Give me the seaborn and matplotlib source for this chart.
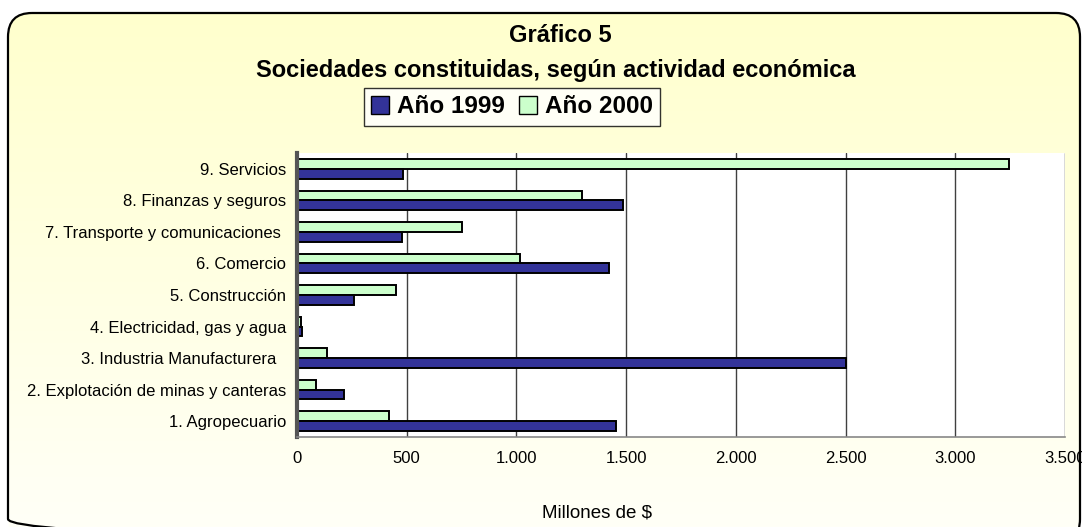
import numpy as np
import pandas as pd
import seaborn as sns
import matplotlib.pyplot as plt
from matplotlib.patches import FancyBboxPatch, Patch
from matplotlib.ticker import FuncFormatter, FixedLocator

sns.set_style('white')
plt.rcParams['font.family'] = ['Liberation Sans', 'DejaVu Sans']
plt.rcParams['text.color'] = 'black'
plt.rcParams['xtick.color'] = 'black'
plt.rcParams['ytick.color'] = 'black'

#%% data (millones de $)
actividades = ['9. Servicios', '8. Finanzas y seguros', '7. Transporte y comunicaciones ',
               '6. Comercio', '5. Construcción', '4. Electricidad, gas y agua',
               '3. Industria Manufacturera  ', '2. Explotación de minas y canteras',
               '1. Agropecuario']
anio_1999 = [484, 1487, 478, 1422, 258, 23, 2501, 215, 1454]
anio_2000 = [3245, 1298, 751, 1017, 451, 18, 137, 86, 417]

df = pd.DataFrame({'actividad': actividades * 2,
                   'anio': ['Año 1999'] * len(actividades) + ['Año 2000'] * len(actividades),
                   'valor': anio_1999 + anio_2000})
cols = {'Año 1999': '#333399', 'Año 2000': '#CCFFCC'}

#%% figure + background
W, H = 1082, 527
fig = plt.figure(figsize=(W / 100, H / 100), dpi=100)
fig.patch.set_facecolor('white')

bg = fig.add_axes([0, 0, 1, 1], zorder=-10)
bg.set_xlim(0, W)
bg.set_ylim(H, 0)
bg.axis('off')
frame = FancyBboxPatch((8, 13), 1072, 530, boxstyle='round,pad=0,rounding_size=24',
                       fc='none', ec='black', lw=1.6, transform=bg.transData)
bg.add_patch(frame)
grad = np.linspace(0, 1, 256)[:, None]
top, bot = np.array([255, 255, 204]) / 255, np.array([255, 255, 247]) / 255
img = top[None, None, :] * (1 - grad[..., None]) + bot[None, None, :] * grad[..., None]
im = bg.imshow(img, extent=[0, W, H, 0], aspect='auto', zorder=-1)
im.set_clip_path(frame)

#%% bars
ax = fig.add_axes([297 / W, 1 - 437 / H, (1065 - 297) / W, (437 - 153) / H])
ax.set_facecolor('white')
sns.barplot(data=df, y='actividad', x='valor', hue='anio', hue_order=['Año 2000', 'Año 1999'],
            order=actividades, orient='h', palette=cols, saturation=1, width=0.62,
            edgecolor='black', linewidth=1.4, legend=False, ax=ax)

ax.set_xlim(0, 3500)
ax.set_xticks(np.arange(0, 3501, 500))
ax.xaxis.set_major_formatter(FuncFormatter(lambda v, p: f"{v:,.0f}".replace(',', '.')))
ax.xaxis.grid(True, color='#404040', lw=1)
ax.set_axisbelow(True)
ax.yaxis.set_minor_locator(FixedLocator(np.arange(-0.5, len(actividades), 1)))
ax.tick_params(axis='y', which='major', length=0, pad=8, labelsize=12)
ax.tick_params(axis='y', which='minor', length=5, width=1, color='#333333', direction='out')
ax.tick_params(axis='x', length=4, width=1, color='#777777', labelsize=12, pad=6)
for s in ['top', 'right']:
    ax.spines[s].set_visible(False)
ax.spines['left'].set_color('#555555')
ax.spines['left'].set_linewidth(3)
ax.spines['bottom'].set_color('#888888')
ax.spines['bottom'].set_linewidth(1.2)
ax.set(xlabel='', ylabel='')

#%% titles, legend, axis label
fig.text(560 / W, 1 - 35 / H, 'Gráfico 5', ha='center', va='center', fontsize=17, fontweight='bold')
fig.text(556 / W, 1 - 70 / H, 'Sociedades constituidas, según actividad económica',
         ha='center', va='center', fontsize=17, fontweight='bold')
handles = [Patch(fc=cols['Año 1999'], ec='black', lw=1), Patch(fc=cols['Año 2000'], ec='black', lw=1)]
leg = fig.legend(handles, ['Año 1999', 'Año 2000'], loc='upper center', ncol=2,
                 bbox_to_anchor=(512 / W, 1 - 88 / H), frameon=True, fancybox=False,
                 prop={'weight': 'bold', 'size': 17.5}, handlelength=0.75, handleheight=0.75,
                 handletextpad=0.3, columnspacing=0.6, borderpad=0.3, borderaxespad=0)
leg.get_frame().set_edgecolor('black')
leg.get_frame().set_linewidth(1)
fig.text(597 / W, 1 - 513 / H, 'Millones de $', ha='center', va='center', fontsize=13.5)

fig.savefig('out.png', dpi=100, facecolor='white')
